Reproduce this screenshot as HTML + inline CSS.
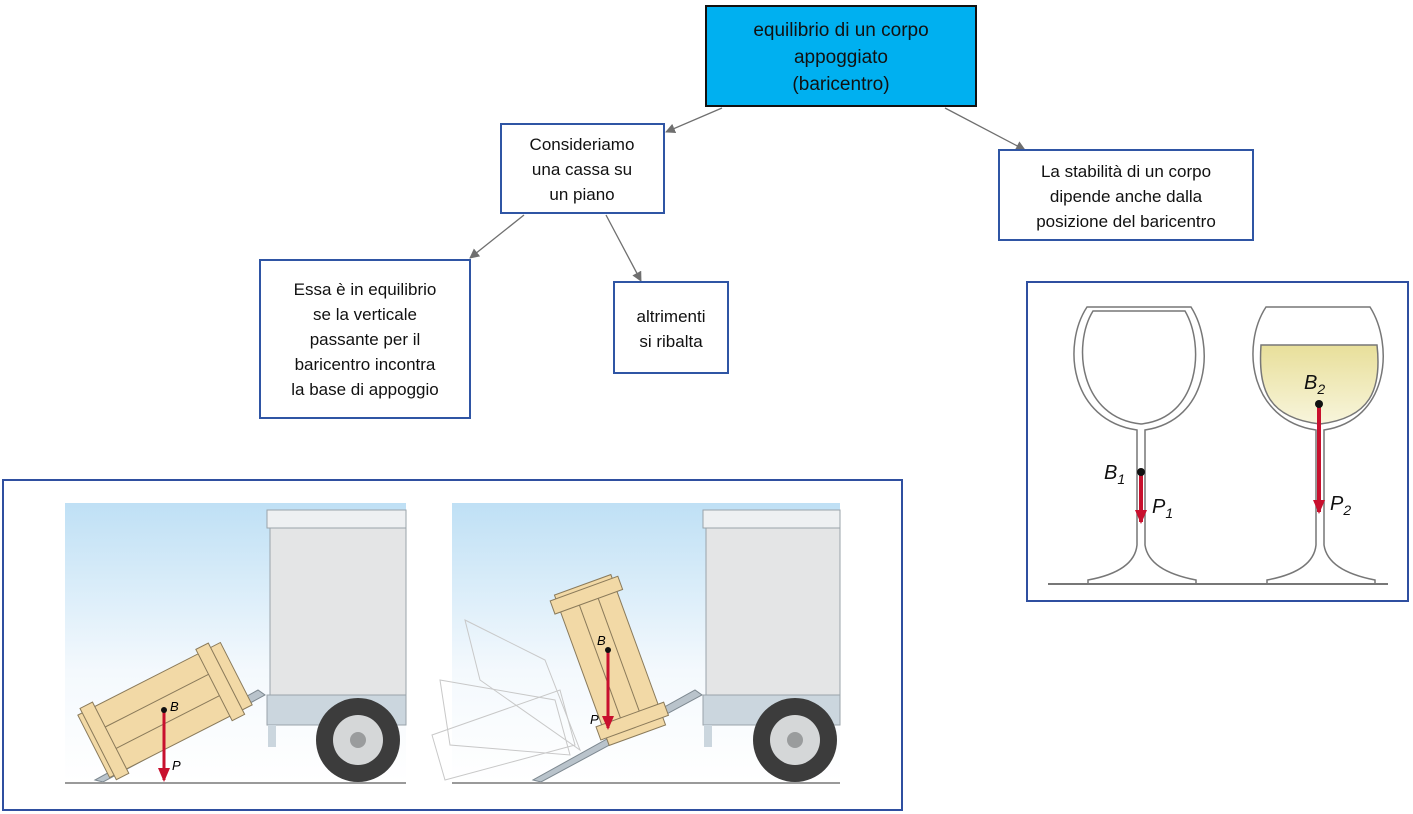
<!DOCTYPE html>
<html><head><meta charset="utf-8"><style>
body{margin:0;background:#fff;}
svg{display:block;font-family:"Liberation Sans",Arial,sans-serif;}
</style></head><body>
<svg width="1413" height="814" viewBox="0 0 1413 814" xmlns="http://www.w3.org/2000/svg">
<defs>
<marker id="ah" markerWidth="10" markerHeight="10" refX="9" refY="5" orient="auto" markerUnits="userSpaceOnUse"><path d="M0,0 L10,5 L0,10 z" fill="#6f6f6f"/></marker>
<marker id="ra" markerWidth="14" markerHeight="12" refX="12" refY="6" orient="auto" markerUnits="userSpaceOnUse"><path d="M0,0 L14,6 L0,12 z" fill="#c8102e"/></marker>
<linearGradient id="sky" x1="0" y1="0" x2="0" y2="1"><stop offset="0" stop-color="#bfe0f5"/><stop offset="0.6" stop-color="#f4f9fd"/><stop offset="1" stop-color="#fff"/></linearGradient>
<linearGradient id="wine" x1="0" y1="0" x2="0" y2="1"><stop offset="0" stop-color="#e8df9a"/><stop offset="1" stop-color="#f8f5dc"/></linearGradient>
</defs>

<g stroke="#6f6f6f" stroke-width="1.3" fill="none" marker-end="url(#ah)">
<line x1="722" y1="108" x2="666" y2="132"/>
<line x1="945" y1="108" x2="1025" y2="150"/>
<line x1="524" y1="215" x2="470" y2="258"/>
<line x1="606" y1="215" x2="641" y2="281"/>
</g>

<rect x="706" y="6" width="270" height="100" fill="#00b0f0" stroke="#111" stroke-width="2"/>
<g font-size="19" text-anchor="middle" fill="#111">
<text x="841" y="36">equilibrio di un corpo</text>
<text x="841" y="63">appoggiato</text>
<text x="841" y="90">(baricentro)</text>
</g>

<g fill="#fff" stroke="#2f55a4" stroke-width="2">
<rect x="501" y="124" width="163" height="89"/>
<rect x="999" y="150" width="254" height="90"/>
<rect x="260" y="260" width="210" height="158"/>
<rect x="614" y="282" width="114" height="91"/>
</g>
<g font-size="17" text-anchor="middle" fill="#111">
<text x="582" y="150">Consideriamo</text>
<text x="582" y="175">una cassa su</text>
<text x="582" y="200">un piano</text>
<text x="1126" y="177">La stabilità di un corpo</text>
<text x="1126" y="202">dipende anche dalla</text>
<text x="1126" y="227">posizione del baricentro</text>
<text x="365" y="295">Essa è in equilibrio</text>
<text x="365" y="320">se la verticale</text>
<text x="365" y="345">passante per il</text>
<text x="365" y="370">baricentro incontra</text>
<text x="365" y="395">la base di appoggio</text>
<text x="671" y="322">altrimenti</text>
<text x="671" y="347">si ribalta</text>
</g>

<rect x="3" y="480" width="899" height="330" fill="#fff" stroke="#2f4fa0" stroke-width="2"/>
<rect x="65" y="503" width="341" height="280" fill="url(#sky)"/>
<rect x="267" y="510" width="139" height="18" fill="#eef0f2" stroke="#9aa3aa"/>
<rect x="270" y="528" width="136" height="167" fill="#e4e5e6" stroke="#9aa3aa"/>
<rect x="267" y="695" width="139" height="30" fill="#cbd6de" stroke="#9aa3aa"/>
<rect x="268" y="725" width="8" height="22" fill="#cbd6de"/>
<circle cx="358" cy="740" r="42" fill="#3c3c3c"/>
<circle cx="358" cy="740" r="25" fill="#d5d7d8"/>
<circle cx="358" cy="740" r="8" fill="#9a9c9d"/>
<polygon points="95,780 103,782 265,695 258,690" fill="#b9c3cb" stroke="#7d8890"/>
<g transform="translate(165,710) rotate(-27)">
<rect x="-80" y="-35" width="160" height="70" fill="#f2d9a6" stroke="#8a7a5a"/>
<rect x="-75" y="-40" width="14" height="80" fill="#f2d9a6" stroke="#8a7a5a"/>
<rect x="55" y="-40" width="14" height="80" fill="#f2d9a6" stroke="#8a7a5a"/>
<line x1="-61" y1="-12" x2="55" y2="-12" stroke="#8a7a5a"/><line x1="-61" y1="12" x2="55" y2="12" stroke="#8a7a5a"/>
</g>
<line x1="164" y1="710" x2="164" y2="780" stroke="#c8102e" stroke-width="3" marker-end="url(#ra)"/>
<circle cx="164" cy="710" r="3" fill="#111"/>
<text x="170" y="711" font-size="13" font-style="italic">B</text>
<text x="172" y="770" font-size="13" font-style="italic">P</text>
<line x1="65" y1="783" x2="406" y2="783" stroke="#9a9a9a" stroke-width="2"/>

<rect x="452" y="503" width="388" height="280" fill="url(#sky)"/>
<rect x="703" y="510" width="137" height="18" fill="#eef0f2" stroke="#9aa3aa"/>
<rect x="706" y="528" width="134" height="167" fill="#e4e5e6" stroke="#9aa3aa"/>
<rect x="703" y="695" width="137" height="30" fill="#cbd6de" stroke="#9aa3aa"/>
<rect x="704" y="725" width="8" height="22" fill="#cbd6de"/>
<circle cx="795" cy="740" r="42" fill="#3c3c3c"/>
<circle cx="795" cy="740" r="25" fill="#d5d7d8"/>
<circle cx="795" cy="740" r="8" fill="#9a9c9d"/>
<polygon points="533,780 541,782 702,695 695,690" fill="#b9c3cb" stroke="#7d8890"/>
<g fill="none" stroke="#c8c8c8">
<polygon points="432,735 560,690 575,745 445,780"/>
<polygon points="440,680 555,700 570,755 450,745"/>
<polygon points="465,620 545,660 580,750 480,680"/>
</g>
<g transform="translate(610,660) rotate(-20)">
<rect x="-30" y="-80" width="60" height="160" fill="#f2d9a6" stroke="#8a7a5a"/>
<rect x="-36" y="-76" width="72" height="14" fill="#f2d9a6" stroke="#8a7a5a"/>
<rect x="-36" y="58" width="72" height="14" fill="#f2d9a6" stroke="#8a7a5a"/>
<line x1="-10" y1="-62" x2="-10" y2="58" stroke="#8a7a5a"/><line x1="10" y1="-62" x2="10" y2="58" stroke="#8a7a5a"/>
</g>
<line x1="608" y1="650" x2="608" y2="728" stroke="#c8102e" stroke-width="3" marker-end="url(#ra)"/>
<circle cx="608" cy="650" r="3" fill="#111"/>
<text x="597" y="645" font-size="13" font-style="italic">B</text>
<text x="590" y="724" font-size="13" font-style="italic">P</text>
<line x1="452" y1="783" x2="840" y2="783" stroke="#9a9a9a" stroke-width="2"/>

<rect x="1027" y="282" width="381" height="319" fill="#fff" stroke="#2f4fa0" stroke-width="2"/>
<g fill="none" stroke="#777" stroke-width="1.5">
<path d="M1087,307 L1191,307 C1215,345 1210,420 1145,430 L1145,545 C1148,565 1170,575 1196,580 L1196,584 L1088,584 L1088,580 C1115,575 1135,565 1137,545 L1137,430 C1070,420 1062,345 1087,307 Z"/>
<path d="M1093,311 L1185,311 C1205,345 1200,418 1141,424 C1080,418 1072,345 1093,311 Z"/>
<path d="M1266,307 L1370,307 C1394,345 1389,420 1324,430 L1324,545 C1327,565 1349,575 1375,580 L1375,584 L1267,584 L1267,580 C1294,575 1314,565 1316,545 L1316,430 C1249,420 1241,345 1266,307 Z"/>
</g>
<path d="M1261,345 L1377,345 C1382,390 1370,418 1320,424 C1268,418 1258,390 1261,345 Z" fill="url(#wine)" stroke="#777" stroke-width="1.5"/>
<line x1="1048" y1="584" x2="1388" y2="584" stroke="#777" stroke-width="2"/>
<line x1="1141" y1="472" x2="1141" y2="522" stroke="#c8102e" stroke-width="4" marker-end="url(#ra)"/>
<circle cx="1141" cy="472" r="4" fill="#111"/>
<line x1="1319" y1="404" x2="1319" y2="512" stroke="#c8102e" stroke-width="4" marker-end="url(#ra)"/>
<circle cx="1319" cy="404" r="4" fill="#111"/>
<g font-size="20" font-style="italic" fill="#111">
<text x="1104" y="479">B<tspan font-size="14" dy="5">1</tspan></text>
<text x="1152" y="513">P<tspan font-size="14" dy="5">1</tspan></text>
<text x="1304" y="389">B<tspan font-size="14" dy="5">2</tspan></text>
<text x="1330" y="510">P<tspan font-size="14" dy="5">2</tspan></text>
</g>
</svg>
</body></html>
